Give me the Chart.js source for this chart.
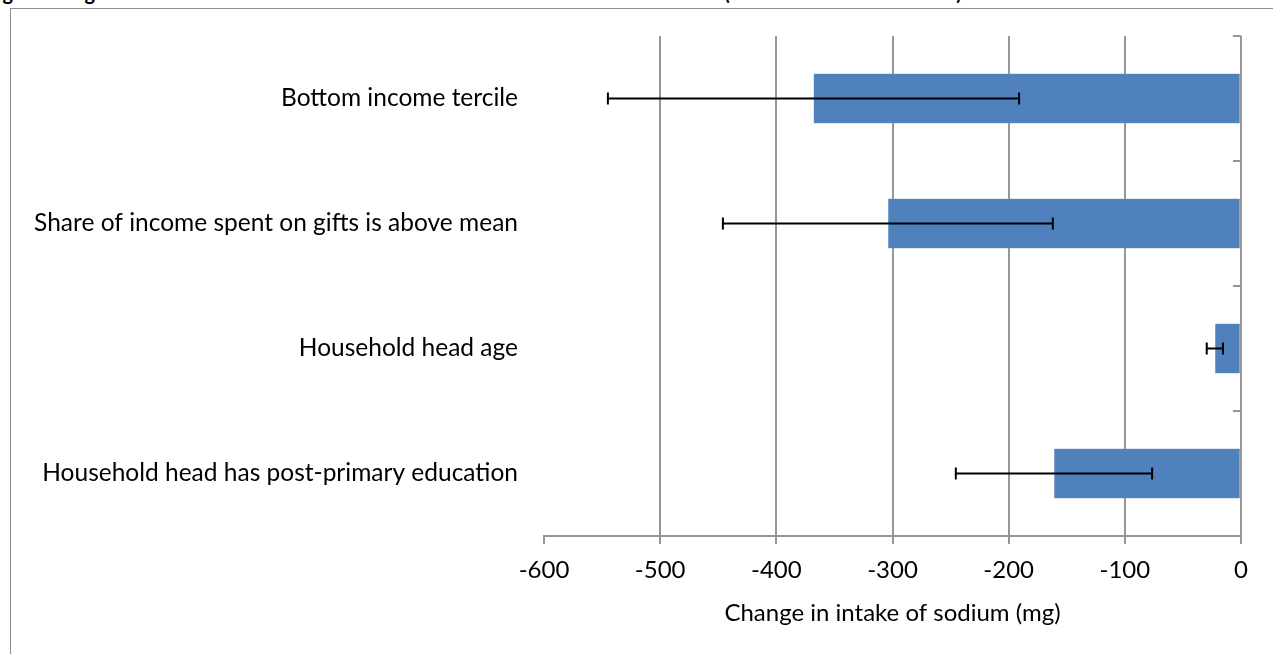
<!DOCTYPE html>
<html lang="en">
<head>
<meta charset="UTF-8">
<title>Sodium intake drivers</title>
<script src="https://cdn.jsdelivr.net/npm/chart.js"></script>
<style>
    body {
        margin: 0;
        width: 1273px;
        height: 654px;
        overflow: hidden;
        background: #ffffff;
        font-family: Lato, "Open Sans", sans-serif;
        position: relative;
    }
    .title {
        position: absolute;
        left: -14px;
        top: -20px;
        font-size: 20px;
        font-weight: bold;
        white-space: nowrap;
        line-height: 24px;
        color: #000;
    }
    .frame {
        position: absolute;
        left: 10px;
        top: 8px;
        width: 1300px;
        height: 700px;
        border: 1.5px solid #8c8c8c;
    }
    canvas {
        position: absolute;
        left: 0;
        top: 0;
    }
</style>
</head>
<body>
<div class="title">Figure 4: Significant household characteristics associated with lower sodium intake (mean and standard errors)</div>
<div class="frame"></div>
<canvas id="chart" width="1273" height="654"></canvas>

<script>
    // data
    const categories = [
        "Bottom income tercile",
        "Share of income spent on gifts is above mean",
        "Household head age",
        "Household head has post-primary education"
    ];
    const changes = [-368, -304, -22.5, -161];
    const stdErrors = [177, 142, 7, 84.5];
    const xTicks = [-600, -500, -400, -300, -200, -100, 0];

    const gridGrey = '#969696';

    // error bars + small inward ticks on the value axis at 0
    const extrasPlugin = {
        id: 'extras',
        afterDatasetsDraw(chart) {
            const ctx = chart.ctx;
            const x = chart.scales.x;
            const y = chart.scales.y;
            ctx.save();
            ctx.strokeStyle = '#000';
            ctx.lineWidth = 2;
            changes.forEach((v, i) => {
                const yc = y.getPixelForValue(i);
                const x1 = x.getPixelForValue(v - stdErrors[i]);
                const x2 = x.getPixelForValue(v + stdErrors[i]);
                ctx.beginPath();
                ctx.moveTo(x1, yc); ctx.lineTo(x2, yc);
                ctx.moveTo(x1, yc - 6); ctx.lineTo(x1, yc + 6);
                ctx.moveTo(x2, yc - 6); ctx.lineTo(x2, yc + 6);
                ctx.stroke();
            });
            // category boundary ticks
            const step = y.getPixelForValue(1) - y.getPixelForValue(0);
            const x0 = x.getPixelForValue(0);
            ctx.strokeStyle = gridGrey;
            ctx.lineWidth = 2;
            for (let i = 0; i <= categories.length; i++) {
                const yy = y.getPixelForValue(0) - step / 2 + i * step;
                ctx.beginPath();
                ctx.moveTo(x0 - 8, yy); ctx.lineTo(x0, yy);
                ctx.stroke();
            }
            ctx.restore();
        }
    };

    new Chart(document.getElementById('chart').getContext('2d'), {
        type: 'bar',
        data: {
            labels: categories,
            datasets: [{
                data: changes,
                backgroundColor: '#4f81bd',
                borderColor: '#7a9fd0',
                borderWidth: 0.5,
                borderSkipped: false,
                categoryPercentage: 1,
                barPercentage: 0.4
            }]
        },
        options: {
            indexAxis: 'y',
            responsive: false,
            animation: false,
            layout: { padding: { top: 36, right: 32, bottom: 0, left: 0 } },
            plugins: {
                legend: { display: false },
                tooltip: { enabled: false }
            },
            scales: {
                x: {
                    type: 'linear',
                    min: -600,
                    max: 0,
                    afterBuildTicks: s => { s.ticks = xTicks.map(v => ({ value: v })); },
                    afterFit: s => { s.height = 118; },
                    grid: {
                        color: c => (c.tick && c.tick.value === -600) ? 'rgba(0,0,0,0)' : gridGrey,
                        tickColor: gridGrey,
                        lineWidth: 2,
                        tickLength: 8
                    },
                    border: { display: true, color: gridGrey, width: 2 },
                    ticks: {
                        color: '#000',
                        padding: 12,
                        font: { family: 'Lato', size: 24 },
                        callback: v => String(v)
                    },
                    title: {
                        display: true,
                        text: 'Change in intake of sodium (mg)',
                        color: '#000',
                        font: { family: 'Lato', size: 24 },
                        padding: { top: 0, bottom: 26 }
                    }
                },
                y: {
                    position: 'left',
                    afterFit: s => { s.width = 544; },
                    grid: { display: false },
                    border: { display: false },
                    ticks: {
                        color: '#000',
                        padding: 18,
                        font: { family: 'Lato', size: 24.5 }
                    }
                }
            }
        },
        plugins: [extrasPlugin]
    });
</script>
</body>
</html>
